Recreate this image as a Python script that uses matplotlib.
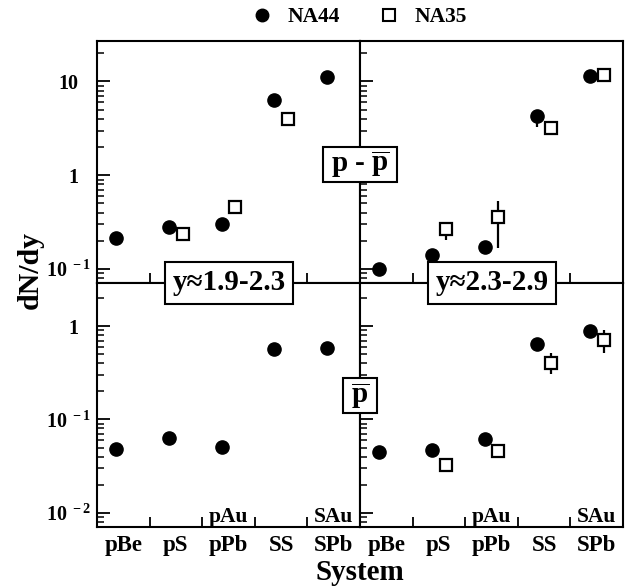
import numpy as np
import matplotlib
matplotlib.use('Agg')
import matplotlib.pyplot as plt
from matplotlib.lines import Line2D
from matplotlib.patches import Rectangle

plt.rcParams['font.family'] = 'Liberation Serif'
plt.rcParams['font.weight'] = 'bold'
plt.rcParams['mathtext.fontset'] = 'custom'
plt.rcParams['mathtext.rm'] = 'Liberation Serif:bold'
plt.rcParams['mathtext.it'] = 'Liberation Serif:bold'
plt.rcParams['mathtext.bf'] = 'Liberation Serif:bold'

systems = ['pBe', 'pS', 'pPb', 'SS', 'SPb']
alt_systems = ['', '', 'pAu', '', 'SAu']
xpos = np.arange(len(systems)) + 0.5

# p - pbar, y~1.9-2.3
na44_net_lo = [0.216, 0.282, 0.299, 6.38, 11.1]
na35_net_lo = [np.nan, 0.234, 0.457, 3.98, np.nan]
# p - pbar, y~2.3-2.9
na44_net_hi = [0.101, 0.140, 0.173, 4.25, 11.5]
na44_net_hi_err = [(0, 0), (0, 0), (0, 0), (3.27, 5.0), (0, 0)]
na35_net_hi = [np.nan, 0.269, 0.357, 3.19, 11.8]
na35_net_hi_err = [(0, 0), (0.204, 0.316), (0.169, 0.528), (0, 0), (10.0, 13.0)]
# pbar, y~1.9-2.3
na44_pbar_lo = [0.048, 0.0635, 0.0505, 0.571, 0.586]
# pbar, y~2.3-2.9
na44_pbar_hi = [0.045, 0.0469, 0.0615, 0.641, 0.884]
na35_pbar_hi = [np.nan, 0.0324, 0.0461, 0.398, 0.708]
na35_pbar_hi_err = [(0, 0), (0, 0), (0, 0), (0.306, 0.51), (0.51, 0.906)]

top_ticks = [0.1, 1, 10]
top_labels = [r'$10^{\ -1}$', '1', '10']
bot_ticks = [0.01, 0.1, 1]
bot_labels = [r'$10^{\ -2}$', r'$10^{\ -1}$', '1']
minor_ticks = [k * 10.0 ** e for e in range(-3, 2) for k in range(2, 10)]

W, H = 631, 588
fig = plt.figure(figsize=(W / 100, H / 100), dpi=100)

x0, xm, x1 = 97, 360, 623
y0, ym, y1 = 41, 283, 527

def fx(p):
    return p / W

def fy(p):
    return 1 - p / H

ax_tl = fig.add_axes([fx(x0), fy(ym), fx(xm - x0), (ym - y0) / H])
ax_tr = fig.add_axes([fx(xm), fy(ym), fx(x1 - xm), (ym - y0) / H])
ax_bl = fig.add_axes([fx(x0), fy(y1), fx(xm - x0), (y1 - ym) / H])
ax_br = fig.add_axes([fx(xm), fy(y1), fx(x1 - xm), (y1 - ym) / H])

off = 0.13

def errs(y, bounds):
    y = np.array(y, dtype=float)
    lo = np.array([b[0] for b in bounds], dtype=float)
    hi = np.array([b[1] for b in bounds], dtype=float)
    lo = np.where(lo > 0, y - lo, 0)
    hi = np.where(hi > 0, hi - y, 0)
    return [lo, hi]

def na44(ax, y, bounds=None):
    yerr = errs(y, bounds) if bounds else None
    ax.errorbar(xpos - off, y, yerr=yerr, fmt='o', color='black', ms=9.5,
                elinewidth=1.6, capsize=0, zorder=3)

def na35(ax, y, bounds=None):
    yerr = errs(y, bounds) if bounds else None
    ax.errorbar(xpos + off, y, yerr=yerr, fmt='s', color='black', mfc='white',
                mec='black', ms=8.5, mew=1.6, elinewidth=1.6, capsize=0, zorder=3)

na44(ax_tl, na44_net_lo)
na35(ax_tl, na35_net_lo)
na44(ax_tr, na44_net_hi, na44_net_hi_err)
na35(ax_tr, na35_net_hi, na35_net_hi_err)
na44(ax_bl, na44_pbar_lo)
na44(ax_br, na44_pbar_hi)
na35(ax_br, na35_pbar_hi, na35_pbar_hi_err)

for ax in [ax_tl, ax_tr, ax_bl, ax_br]:
    ax.set_yscale('log')
    ax.set_xlim(0, 5)
    for s in ax.spines.values():
        s.set_linewidth(1.5)
    ax.set_xticks([1, 2, 3, 4])
    ax.set_xticklabels([])
    ax.set_xticks(xpos, minor=True)
    ax.tick_params(axis='x', which='major', direction='in', length=7, width=1.3,
                   top=False, bottom=True)
    ax.tick_params(axis='x', which='minor', length=0, pad=6, labelsize=16.5)

for ax in [ax_tl, ax_tr]:
    ax.set_yticks(top_ticks)
    ax.set_ylim(0.071, 27)
    ax.set_xticklabels([], minor=True)
for ax in [ax_bl, ax_br]:
    ax.set_yticks(bot_ticks)
    ax.set_ylim(0.00703, 2.9)
    ax.set_xticklabels(systems, minor=True, fontweight='bold')
    for xp, s in zip(xpos, alt_systems):
        if s:
            ax.text(xp, 0.02, s, transform=ax.get_xaxis_transform(), ha='center',
                    va='baseline', fontsize=15.5, fontweight='bold')

for ax in [ax_tl, ax_tr, ax_bl, ax_br]:
    lo, hi = ax.get_ylim()
    ax.set_yticks([m for m in minor_ticks if lo < m < hi], minor=True)
    ax.set_yticklabels([], minor=True)
    ax.tick_params(axis='y', which='major', direction='in', length=9, width=1.3,
                   left=True, right=False, labelsize=14.5, pad=4)
    ax.tick_params(axis='y', which='minor', direction='in', length=5, width=1.1,
                   left=True, right=False)

ax_tl.set_yticklabels(top_labels)
ax_bl.set_yticklabels(bot_labels)
for ax in [ax_tr, ax_br]:
    ax.tick_params(axis='y', which='both', labelleft=False)

# plain labels sit further from the axis than the ones with exponents
for ax, labs in [(ax_tl, top_labels), (ax_bl, bot_labels)]:
    for t, lab in zip(ax.yaxis.get_major_ticks(), labs):
        if '^' not in lab:
            t.set_pad(13.5)

# framed labels
def framed(cx, cy, w, h, txt, size):
    fig.patches.append(Rectangle((fx(cx - w / 2), fy(cy + h / 2)), w / W, h / H,
                                 transform=fig.transFigure, fc='white', ec='black',
                                 lw=1.5, zorder=9))
    fig.text(fx(cx), fy(cy), txt, ha='center', va='center', fontsize=size, zorder=10)

framed(xm, 164.5, 74, 35, r'p - $\overline{\mathrm{p}}$', 21)
framed(xm, 395.5, 34, 35, r'$\overline{\mathrm{p}}$', 21)

box = dict(boxstyle='square,pad=0.25', fc='white', ec='black', lw=1.5)
fig.text(fx(229), fy(ym), 'y≈1.9-2.3', ha='center', va='center',
         fontsize=21, bbox=box, zorder=10)
fig.text(fx(492), fy(ym), 'y≈2.3-2.9', ha='center', va='center',
         fontsize=21, bbox=box, zorder=10)

fig.text(fx(30), fy(270), 'dN/dy', rotation=90, ha='center', va='center',
         fontsize=21.5, fontweight='bold')
fig.text(fx(360), fy(573), 'System', ha='center', va='center',
         fontsize=21, fontweight='bold')

handles = [Line2D([], [], marker='o', ls='none', color='black', ms=9),
           Line2D([], [], marker='s', ls='none', mfc='white', mec='black', ms=8, mew=1.5)]
fig.legend(handles, ['NA44', 'NA35'], loc='center', bbox_to_anchor=(fx(358), fy(17)),
           ncol=2, frameon=False, prop={'size': 15.5, 'weight': 'bold'},
           handletextpad=0.6, columnspacing=1.65, handlelength=1.2)

plt.savefig('out.png', dpi=100)
